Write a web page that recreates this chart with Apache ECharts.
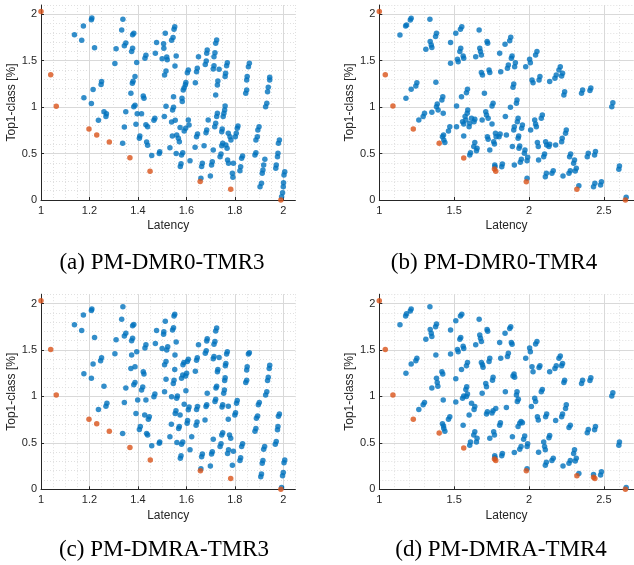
<!DOCTYPE html>
<html>
<head>
<meta charset="utf-8">
<script src="https://cdn.jsdelivr.net/npm/echarts@6/dist/echarts.min.js"></script>
<style>html,body{margin:0;padding:0;background:#fff}#c{width:634px;height:565px}</style>
</head>
<body>
<div id="c"></div>
<script>
// ---- data ----
const captions = ['(a) PM-DMR0-TMR3', '(b) PM-DMR0-TMR4', '(c) PM-DMRA-TMR3', '(d) PM-DMRA-TMR4'];
const xTicksTMR3 = [1, 1.2, 1.4, 1.6, 1.8, 2];
const xTicksTMR4 = [1, 1.5, 2, 2.5];
const yTicks = [0, 0.5, 1, 1.5, 2];

const blueA = [[1.138,1.78],[1.168,1.72],[1.175,1.875],[1.208,1.94],[1.21,1.96],[1.221,1.64],[1.177,1.10],[1.208,1.04],[1.215,1.19],[1.237,0.86],[1.248,1.245],[1.25,1.275],[1.26,0.95],[1.27,0.93],[1.268,0.90],[1.305,1.47],[1.31,1.63],[1.333,1.83],[1.338,1.946],[1.344,1.66],[1.35,1.69],[1.344,0.786],[1.35,0.95],[1.337,0.61],[1.378,1.78],[1.383,1.795],[1.374,1.60],[1.378,1.635],[1.377,1.257],[1.38,1.28],[1.371,1.15],[1.388,1.33],[1.395,1.48],[1.383,1.005],[1.388,1.02],[1.397,0.93],[1.392,0.815],[1.406,0.664],[1.408,0.69],[1.415,0.93],[1.425,1.095],[1.422,1.12],[1.429,1.526],[1.433,1.56],[1.433,0.81],[1.44,0.79],[1.436,0.625],[1.44,0.59],[1.457,0.478],[1.466,0.86],[1.47,0.88],[1.472,1.58],[1.477,1.695],[1.49,0.52],[1.488,0.50],[1.50,1.52],[1.507,1.634],[1.506,1.684],[1.513,1.795],[1.51,1.345],[1.516,1.39],[1.516,1.01],[1.509,0.90],[1.521,1.51],[1.519,1.54],[1.532,0.563],[1.539,0.84],[1.543,0.97],[1.547,1.0],[1.547,1.113],[1.542,0.69],[1.539,1.72],[1.545,1.75],[1.549,1.84],[1.552,1.867],[1.553,1.443],[1.558,1.55],[1.554,0.86],[1.56,0.70],[1.558,0.50],[1.567,0.664],[1.571,0.628],[1.574,0.78],[1.582,1.095],[1.583,1.06],[1.575,0.36],[1.578,0.39],[1.58,0.485],[1.585,0.51],[1.587,1.185],[1.591,1.21],[1.596,1.24],[1.598,1.265],[1.591,0.743],[1.597,0.772],[1.604,1.37],[1.608,1.40],[1.608,0.862],[1.611,0.808],[1.615,0.424],[1.636,0.567],[1.637,1.264],[1.642,0.682],[1.646,0.711],[1.642,1.38],[1.645,1.418],[1.65,1.544],[1.663,0.36],[1.666,0.395],[1.66,0.233],[1.673,0.585],[1.681,0.725],[1.684,0.754],[1.678,1.46],[1.682,1.497],[1.684,1.58],[1.686,1.616],[1.69,0.862],[1.699,0.259],[1.704,0.377],[1.707,0.413],[1.711,0.539],[1.711,1.41],[1.714,1.447],[1.714,1.544],[1.718,1.587],[1.717,0.79],[1.721,0.826],[1.721,1.688],[1.725,1.723],[1.721,1.131],[1.725,0.898],[1.728,0.934],[1.728,1.239],[1.73,1.282],[1.735,1.408],[1.739,0.467],[1.743,0.495],[1.746,0.736],[1.748,0.765],[1.746,0.585],[1.75,0.61],[1.752,0.898],[1.755,0.934],[1.758,0.97],[1.76,1.013],[1.76,1.33],[1.762,1.364],[1.766,1.447],[1.769,1.479],[1.763,0.592],[1.768,0.557],[1.77,0.43],[1.774,0.395],[1.773,0.718],[1.78,0.682],[1.784,0.646],[1.79,0.287],[1.792,0.244],[1.794,0.395],[1.802,0.682],[1.806,0.718],[1.81,0.772],[1.813,0.797],[1.821,0.316],[1.824,0.359],[1.828,0.449],[1.832,0.474],[1.845,1.149],[1.849,1.185],[1.849,1.293],[1.851,1.329],[1.856,1.436],[1.86,1.472],[1.883,0.485],[1.887,0.51],[1.887,0.646],[1.893,0.682],[1.895,0.754],[1.9,0.79],[1.904,0.144],[1.91,0.18],[1.913,0.287],[1.916,0.323],[1.919,0.377],[1.924,0.438],[1.927,1.005],[1.932,1.041],[1.935,1.167],[1.938,1.214],[1.944,1.293],[1.944,1.321],[1.969,0.341],[1.971,0.377],[1.976,0.467],[1.978,0.503],[1.98,0.61],[1.984,0.646],[1.993,0.036],[1.997,0.079],[2.0,0.144],[2.001,0.187],[2.003,0.269],[2.006,0.305]];
const redA = [[1,2.03],[1.04,1.35],[1.063,1.01],[1.198,0.765],[1.23,0.70],[1.282,0.625],[1.367,0.455],[1.45,0.31],[1.657,0.20],[1.783,0.115],[1.99,0.0]];

const blueB = [[1.138,1.777],[1.176,1.874],[1.182,1.885],[1.207,1.939],[1.213,1.957],[1.178,1.095],[1.213,1.192],[1.244,1.228],[1.251,1.264],[1.264,0.862],[1.293,0.898],[1.302,0.934],[1.311,1.623],[1.338,1.946],[1.34,1.706],[1.347,1.67],[1.351,1.641],[1.351,0.944],[1.378,1.268],[1.376,1.76],[1.382,1.795],[1.382,1.005],[1.387,1.034],[1.393,0.97],[1.418,1.077],[1.424,1.113],[1.427,0.934],[1.422,0.682],[1.429,0.7],[1.431,0.646],[1.438,0.618],[1.462,0.743],[1.471,0.79],[1.476,1.472],[1.476,1.695],[1.511,1.795],[1.516,0.79],[1.516,1.013],[1.522,1.515],[1.527,1.49],[1.538,1.598],[1.544,1.634],[1.542,1.838],[1.551,1.867],[1.56,1.551],[1.564,1.526],[1.549,1.113],[1.564,0.69],[1.556,0.844],[1.564,0.819],[1.573,0.898],[1.578,0.862],[1.582,1.156],[1.589,1.192],[1.587,0.934],[1.591,0.97],[1.604,0.485],[1.609,0.51],[1.6,0.79],[1.604,0.826],[1.616,0.88],[1.631,0.575],[1.638,0.618],[1.649,0.531],[1.653,0.557],[1.644,1.544],[1.633,0.844],[1.638,0.869],[1.667,1.831],[1.671,1.634],[1.676,1.598],[1.682,1.562],[1.687,0.862],[1.682,1.372],[1.689,1.346],[1.702,1.149],[1.711,0.951],[1.716,0.916],[1.72,1.706],[1.724,1.688],[1.722,0.682],[1.727,0.653],[1.733,1.4],[1.738,1.372],[1.727,0.88],[1.738,0.539],[1.753,0.819],[1.753,1.013],[1.76,1.041],[1.764,0.628],[1.769,0.603],[1.771,0.377],[1.773,0.359],[1.776,0.718],[1.78,0.682],[1.8,0.682],[1.807,0.711],[1.804,1.58],[1.811,1.382],[1.818,0.359],[1.822,0.388],[1.84,1.677],[1.842,0.898],[1.849,0.7],[1.856,1.418],[1.862,1.454],[1.871,1.716],[1.878,1.752],[1.876,0.998],[1.882,1.526],[1.887,1.551],[1.889,0.575],[1.893,1.214],[1.898,1.25],[1.898,0.754],[1.902,0.79],[1.904,1.436],[1.909,1.479],[1.902,0.377],[1.916,1.041],[1.92,1.077],[1.922,0.844],[1.927,0.88],[1.927,0.664],[1.931,0.69],[1.933,0.557],[1.938,0.582],[1.942,0.406],[1.949,0.438],[1.951,0.772],[1.956,0.808],[1.969,0.503],[1.973,0.539],[1.978,1.436],[1.987,0.424],[1.991,0.46],[1.987,0.233],[2.004,1.515],[2.009,1.479],[2.011,0.754],[2.02,1.293],[2.027,1.264],[2.038,0.862],[2.044,0.819],[2.044,1.562],[2.053,1.598],[2.049,0.79],[2.056,0.618],[2.062,0.575],[2.064,0.431],[2.067,1.293],[2.073,1.329],[2.082,0.88],[2.089,0.916],[2.098,0.467],[2.104,0.495],[2.111,0.628],[2.118,0.592],[2.109,0.251],[2.116,0.287],[2.138,1.275],[2.133,0.575],[2.138,0.6],[2.153,0.287],[2.162,0.316],[2.178,0.592],[2.173,1.311],[2.182,1.347],[2.2,1.4],[2.209,1.436],[2.218,0.628],[2.222,0.664],[2.218,1.336],[2.224,1.364],[2.227,0.259],[2.233,1.131],[2.238,1.167],[2.244,0.718],[2.249,0.754],[2.267,0.287],[2.276,0.316],[2.271,0.467],[2.278,0.495],[2.298,0.395],[2.304,0.431],[2.309,0.312],[2.316,0.341],[2.333,0.154],[2.351,1.149],[2.358,1.185],[2.389,0.467],[2.396,0.503],[2.407,1.178],[2.413,1.206],[2.431,0.144],[2.44,0.18],[2.438,0.485],[2.444,0.521],[2.478,0.162],[2.484,0.197],[2.553,1.005],[2.56,1.048],[2.6,0.33],[2.604,0.366],[2.649,0.029]];
const redB = [[1,2.03],[1.04,1.35],[1.091,1.013],[1.227,0.765],[1.4,0.61],[1.564,0.452],[1.769,0.334],[1.778,0.309],[1.982,0.197],[2.32,0.115],[2.644,0.0]];

const blueC = [[1.138,1.77],[1.168,1.71],[1.175,1.875],[1.208,1.925],[1.21,1.94],[1.221,1.635],[1.177,1.245],[1.208,1.195],[1.215,1.35],[1.237,0.86],[1.246,1.385],[1.25,1.415],[1.26,1.11],[1.268,0.895],[1.272,0.925],[1.305,1.46],[1.31,1.61],[1.333,1.83],[1.338,1.965],[1.344,1.65],[1.35,1.68],[1.344,0.935],[1.35,1.09],[1.337,0.6],[1.378,1.76],[1.383,1.775],[1.374,1.6],[1.378,1.625],[1.374,1.445],[1.371,1.3],[1.388,1.32],[1.383,1.125],[1.388,1.15],[1.395,1.48],[1.399,0.96],[1.392,0.815],[1.406,0.645],[1.41,0.675],[1.415,1.07],[1.42,1.1],[1.425,1.24],[1.422,1.265],[1.429,1.52],[1.433,1.555],[1.433,0.96],[1.428,0.8],[1.436,0.6],[1.44,0.585],[1.443,0.755],[1.447,0.78],[1.457,0.47],[1.466,0.995],[1.47,1.025],[1.472,1.57],[1.477,1.71],[1.49,0.51],[1.488,0.495],[1.5,1.515],[1.506,1.67],[1.507,1.695],[1.513,1.81],[1.51,1.05],[1.51,1.34],[1.516,1.375],[1.516,1.185],[1.519,1.5],[1.523,1.535],[1.532,0.565],[1.538,0.7],[1.539,0.995],[1.543,1.715],[1.547,1.74],[1.549,1.865],[1.552,1.885],[1.546,1.14],[1.549,1.175],[1.552,1.29],[1.553,1.445],[1.554,0.815],[1.557,0.845],[1.56,0.98],[1.563,1.005],[1.558,1.585],[1.561,0.505],[1.568,0.655],[1.571,0.675],[1.574,0.8],[1.575,0.335],[1.578,0.36],[1.58,0.485],[1.585,0.51],[1.58,1.195],[1.585,1.23],[1.586,1.34],[1.59,1.365],[1.591,0.915],[1.597,1.22],[1.601,1.25],[1.598,1.06],[1.604,1.375],[1.608,1.4],[1.603,0.71],[1.605,0.74],[1.608,0.855],[1.611,0.885],[1.615,0.425],[1.622,0.565],[1.637,1.27],[1.64,0.69],[1.644,0.725],[1.642,0.86],[1.646,0.89],[1.642,1.39],[1.645,1.415],[1.65,1.555],[1.663,0.35],[1.666,0.38],[1.66,0.22],[1.677,0.745],[1.681,0.89],[1.684,0.91],[1.686,1.035],[1.678,1.465],[1.682,1.49],[1.684,1.595],[1.686,1.62],[1.699,0.25],[1.704,0.38],[1.707,0.405],[1.711,0.54],[1.711,1.405],[1.714,1.43],[1.714,1.56],[1.718,1.59],[1.718,0.945],[1.721,0.97],[1.722,1.09],[1.725,1.11],[1.721,1.705],[1.725,1.735],[1.728,1.265],[1.73,1.29],[1.735,1.42],[1.739,0.46],[1.743,0.49],[1.746,0.585],[1.75,0.61],[1.747,0.885],[1.75,0.91],[1.754,1.035],[1.757,1.07],[1.758,1.17],[1.76,1.2],[1.761,1.33],[1.763,1.355],[1.766,1.455],[1.769,1.48],[1.773,0.895],[1.77,0.385],[1.774,0.425],[1.773,0.755],[1.778,0.585],[1.783,0.55],[1.79,0.26],[1.794,0.41],[1.8,0.8],[1.803,0.825],[1.807,0.925],[1.81,0.955],[1.821,0.31],[1.824,0.34],[1.828,0.46],[1.832,0.49],[1.845,1.15],[1.849,1.175],[1.849,1.285],[1.851,1.32],[1.856,1.455],[1.86,1.47],[1.883,0.625],[1.887,0.655],[1.889,0.765],[1.894,0.79],[1.897,0.91],[1.901,0.935],[1.907,0.135],[1.91,0.165],[1.913,0.28],[1.916,0.31],[1.919,0.43],[1.923,0.46],[1.927,1.015],[1.932,1.05],[1.935,1.17],[1.938,1.205],[1.942,1.3],[1.944,1.335],[1.967,0.485],[1.971,0.515],[1.976,0.64],[1.978,0.675],[1.98,0.785],[1.984,0.81],[1.993,0.02],[1.997,0.145],[2.0,0.18],[2.003,0.285],[2.006,0.315]];
const redC = [[1,2.03],[1.04,1.505],[1.063,1.015],[1.198,0.755],[1.23,0.705],[1.282,0.625],[1.367,0.45],[1.451,0.315],[1.658,0.2],[1.783,0.115],[1.99,0.0]];

const blueD = [[1.138,1.77],[1.176,1.865],[1.182,1.89],[1.207,1.92],[1.213,1.94],[1.178,1.25],[1.213,1.35],[1.244,1.385],[1.251,1.41],[1.264,0.86],[1.293,0.91],[1.302,0.935],[1.311,1.615],[1.338,1.965],[1.34,1.72],[1.347,1.68],[1.351,1.645],[1.351,1.09],[1.378,1.445],[1.376,1.75],[1.382,1.78],[1.382,1.195],[1.387,1.15],[1.391,1.11],[1.418,1.265],[1.424,1.24],[1.427,0.96],[1.422,0.705],[1.429,0.68],[1.431,0.655],[1.438,0.625],[1.462,0.755],[1.471,0.78],[1.476,1.455],[1.476,1.715],[1.511,1.815],[1.511,1.19],[1.511,0.94],[1.522,1.505],[1.527,1.48],[1.538,1.615],[1.544,1.635],[1.542,1.865],[1.551,1.885],[1.56,1.54],[1.564,1.515],[1.549,1.29],[1.56,0.69],[1.556,0.98],[1.564,1.005],[1.582,1.33],[1.589,1.365],[1.578,1.075],[1.584,1.105],[1.582,1.0],[1.589,1.025],[1.604,0.475],[1.609,0.51],[1.6,0.8],[1.616,0.925],[1.631,0.585],[1.638,0.62],[1.649,0.51],[1.653,0.55],[1.644,1.555],[1.633,0.86],[1.638,0.89],[1.667,1.83],[1.671,1.66],[1.676,1.625],[1.682,1.59],[1.687,1.035],[1.682,1.365],[1.689,1.34],[1.693,1.315],[1.711,1.14],[1.716,1.105],[1.72,1.72],[1.724,1.7],[1.716,0.81],[1.722,0.835],[1.733,1.375],[1.738,1.41],[1.738,0.55],[1.753,0.82],[1.76,0.845],[1.756,1.175],[1.76,1.205],[1.764,0.62],[1.769,0.585],[1.771,0.36],[1.773,0.34],[1.778,0.87],[1.804,0.69],[1.809,0.715],[1.804,1.58],[1.811,1.41],[1.818,0.36],[1.822,0.385],[1.84,1.68],[1.842,1.05],[1.849,0.88],[1.856,1.43],[1.862,1.465],[1.871,1.73],[1.878,1.75],[1.882,1.58],[1.887,1.56],[1.889,0.565],[1.893,1.22],[1.9,1.24],[1.904,1.205],[1.902,0.395],[1.916,1.015],[1.92,1.05],[1.922,0.945],[1.929,0.97],[1.927,0.675],[1.938,0.71],[1.947,0.73],[1.956,0.715],[1.938,0.43],[1.947,0.46],[1.964,0.54],[1.971,0.575],[1.978,1.41],[1.987,0.46],[1.991,0.49],[1.987,0.22],[2.004,1.52],[2.009,1.48],[2.016,0.89],[2.02,1.32],[2.027,1.265],[2.038,0.98],[2.044,0.945],[2.044,1.565],[2.053,1.59],[2.056,0.78],[2.062,0.745],[2.064,0.4],[2.067,1.31],[2.073,1.33],[2.082,1.05],[2.089,1.075],[2.098,0.51],[2.104,0.46],[2.109,0.425],[2.111,0.78],[2.118,0.81],[2.109,0.26],[2.116,0.29],[2.138,1.265],[2.133,0.555],[2.138,0.58],[2.153,0.31],[2.162,0.335],[2.178,0.74],[2.173,1.3],[2.182,1.33],[2.2,1.41],[2.209,1.435],[2.218,0.78],[2.224,0.81],[2.218,1.33],[2.224,1.355],[2.227,0.25],[2.233,1.15],[2.238,1.175],[2.244,0.87],[2.249,0.91],[2.267,0.665],[2.276,0.69],[2.267,0.28],[2.276,0.31],[2.298,0.385],[2.304,0.425],[2.309,0.305],[2.316,0.335],[2.333,0.17],[2.351,1.14],[2.358,1.175],[2.389,0.61],[2.396,0.645],[2.407,1.17],[2.413,1.2],[2.431,0.16],[2.438,0.64],[2.444,0.675],[2.478,0.155],[2.484,0.19],[2.553,1.005],[2.56,1.04],[2.6,0.475],[2.604,0.51],[2.649,0.02]];
const redD = [[1,2.03],[1.04,1.505],[1.091,1.015],[1.227,0.755],[1.4,0.605],[1.564,0.445],[1.769,0.325],[1.778,0.31],[1.982,0.2],[2.32,0.145],[2.431,0.13],[2.44,0.115],[2.644,0.0]];

// ---- layout / style ----
const BLUE = '#0072BD', RED = '#D95319';
const AX = '#262626';
const panels = [
  {blue: blueA, red: redA, grid: {left: 41, top: 5, width: 254.4, height: 195}, x: {min: 1, max: 2.05, major: 0.2, minor: 0.05}, cap: [162, 263]},
  {blue: blueB, red: redB, grid: {left: 379.3, top: 5, width: 254.5, height: 195}, x: {min: 1, max: 2.7, major: 0.5, minor: 0.1}, cap: [494, 263]},
  {blue: blueC, red: redC, grid: {left: 41, top: 294.2, width: 254.4, height: 195.1}, x: {min: 1, max: 2.05, major: 0.2, minor: 0.05}, cap: [164, 550]},
  {blue: blueD, red: redD, grid: {left: 379.3, top: 294.2, width: 254.5, height: 195.1}, x: {min: 1, max: 2.7, major: 0.5, minor: 0.1}, cap: [501, 550]}
];
const Y = {min: 0, max: 2.1, major: 0.5, minor: 0.1};
const FONT = '"Liberation Sans", Arial, sans-serif';

const grids = [], xAxes = [], yAxes = [], series = [], graphics = [];
panels.forEach((p, i) => {
  grids.push(Object.assign({containLabel: false}, p.grid));
  const tickVals = p.x.major === 0.2 ? xTicksTMR3 : xTicksTMR4;
  xAxes.push({
    type: 'value', gridIndex: i, min: p.x.min, max: p.x.max, interval: p.x.major, z: 2,
    name: 'Latency', nameLocation: 'middle', nameGap: 20,
    nameTextStyle: {fontFamily: FONT, fontSize: 12, color: AX},
    axisLine: {show: true, onZero: false, lineStyle: {color: AX, width: 1}},
    axisTick: {show: true, inside: true, length: 3, lineStyle: {color: AX}},
    axisLabel: {show: true, margin: 5, fontFamily: FONT, fontSize: 11, color: AX, showMaxLabel: false,
      formatter: v => { const t = tickVals.find(k => Math.abs(k - v) < 1e-6); return t === undefined ? '' : String(t); }},
    splitLine: {show: true, showMaxLine: false, showMinLine: false, lineStyle: {color: '#d9d9d9', width: 1}}
  });
  xAxes.push({
    type: 'value', gridIndex: i, min: p.x.min, max: p.x.max, interval: p.x.minor, z: 1,
    axisLine: {show: false}, axisTick: {show: false}, axisLabel: {show: false},
    splitLine: {show: true, lineStyle: {color: '#e0e0e0', width: 1, type: [1, 2]}}
  });
  yAxes.push({
    type: 'value', gridIndex: i, min: Y.min, max: Y.max, interval: Y.major, z: 2,
    name: 'Top1-class [%]', nameLocation: 'middle', nameGap: 21, nameRotate: 90,
    nameTextStyle: {fontFamily: FONT, fontSize: 12, color: AX},
    axisLine: {show: true, onZero: false, lineStyle: {color: AX, width: 1}},
    axisTick: {show: true, inside: true, length: 3, lineStyle: {color: AX}},
    axisLabel: {show: true, margin: 4, fontFamily: FONT, fontSize: 11, color: AX, showMaxLabel: false,
      formatter: v => { const t = yTicks.find(k => Math.abs(k - v) < 1e-6); return t === undefined ? '' : String(t); }},
    splitLine: {show: true, showMaxLine: false, showMinLine: false, lineStyle: {color: '#d9d9d9', width: 1}}
  });
  yAxes.push({
    type: 'value', gridIndex: i, min: Y.min, max: Y.max, interval: Y.minor, z: 1,
    axisLine: {show: false}, axisTick: {show: false}, axisLabel: {show: false},
    splitLine: {show: true, lineStyle: {color: '#e0e0e0', width: 1, type: [1, 2]}}
  });
  series.push({
    type: 'scatter', xAxisIndex: 2 * i, yAxisIndex: 2 * i, data: p.blue, symbolSize: 5.5,
    itemStyle: {color: BLUE}, z: 3, animation: false, silent: true
  });
  series.push({
    type: 'scatter', xAxisIndex: 2 * i, yAxisIndex: 2 * i, data: p.red, symbolSize: 5.5,
    itemStyle: {color: RED}, z: 4, animation: false, silent: true
  });
  graphics.push({
    type: 'text', x: p.cap[0], y: p.cap[1],
    style: {text: captions[i], fill: '#000', font: '23px "Liberation Serif", "Times New Roman", serif',
      align: 'center', verticalAlign: 'middle'}
  });
});

const chart = echarts.init(document.getElementById('c'), null, {renderer: 'canvas'});
chart.setOption({
  animation: false,
  backgroundColor: '#fff',
  grid: grids,
  xAxis: xAxes,
  yAxis: yAxes,
  series: series,
  graphic: graphics
});
</script>
</body>
</html>
